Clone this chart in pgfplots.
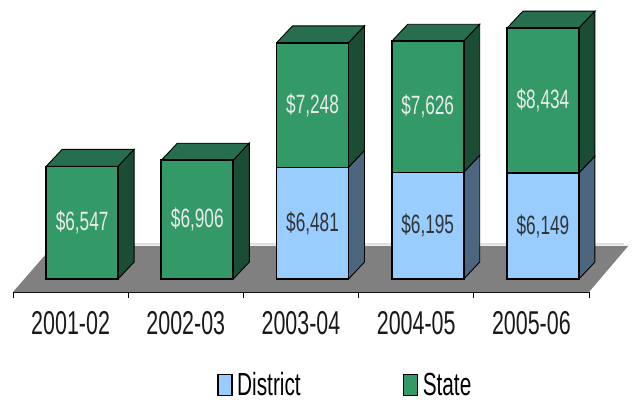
\documentclass[border=0pt]{standalone}
\usepackage{fontspec}
\setmainfont[FakeStretch=0.65]{Liberation Sans}
\usepackage{pgfplots}
\usepackage{pgfplotstable}
\pgfplotsset{compat=1.18}
\definecolor{gfront}{HTML}{339966}
\definecolor{gside}{HTML}{1A4D33}
\definecolor{gtop}{HTML}{266E4D}
\definecolor{bfront}{HTML}{99CCFF}
\definecolor{bside}{HTML}{4D6680}
\definecolor{floorc}{HTML}{808080}
\pgfplotstableread{
x d s
0.1 0 6547
1.1 0 6906
2.1 6481 7248
3.1 6195 7626
4.1 6149 8434
}\datatab
\pgfplotstableread{
x d s
2.1 6481 7248
3.1 6195 7626
4.1 6149 8434
}\datatabd
\begin{document}
\begin{tikzpicture}
\path (-13pt,-110pt) rectangle (624pt,292pt);
\begin{axis}[
  at={(0pt,0pt)}, anchor=south west,
  scale only axis, width=576pt, height=292pt,
  xmin=-0.5, xmax=4.5, ymin=-756, ymax=16221,
  clip=false,
  axis x line*=bottom, axis y line=none,
  axis line style={black, line width=1pt},
  xtick={-0.5,0.5,1.5,2.5,3.5,4.5}, xticklabels={},
  tick align=outside, major tick length=6pt,
  tick style={black, line width=0.8pt},
  extra x ticks={0,1,2,3,4},
  extra x tick labels={2001-02,2002-03,2003-04,2004-05,2005-06},
  extra x tick style={major tick length=0pt, tick style={draw=none}},
  xticklabel style={font=\fontsize{33}{33}\selectfont, text=black!90, yshift=-16pt},
  legend style={at={(205pt,-93pt)}, anchor=west, draw=none, fill=none,
    legend columns=2, inner sep=0pt, font=\fontsize{32}{32}\selectfont,
    /tikz/every even column/.append style={column sep=101pt}},
  legend cell align=left,
  /pgf/number format/assume math mode=true,
  /pgf/number format/1000 sep={,},
  face/.style={draw=black, line width=0.9pt, forget plot},
]
\addplot[fill=floorc, draw=none, forget plot] coordinates {(-0.5,-756) (-0.153,1919) (4.84,1919) (4.5,-756) (-0.5,-756)};
\addplot[draw=black!12, line width=2pt, forget plot] coordinates {(-0.15,2010) (4.8,2010)};

% tops
\addplot[face, fill=gtop] coordinates {(-0.2125,6547) (-0.0735,7535) (0.5515,7535) (0.4125,6547) (-0.2125,6547)};
\addplot[face, fill=gtop] coordinates {(0.7875,6906) (0.9265,7894) (1.5515,7894) (1.4125,6906) (0.7875,6906)};
\addplot[face, fill=gtop] coordinates {(1.7875,13729) (1.9265,14717) (2.5515,14717) (2.4125,13729) (1.7875,13729)};
\addplot[face, fill=gtop] coordinates {(2.7875,13821) (2.9265,14809) (3.5515,14809) (3.4125,13821) (2.7875,13821)};
\addplot[face, fill=gtop] coordinates {(3.7875,14583) (3.9265,15571) (4.5515,15571) (4.4125,14583) (3.7875,14583)};
% state sides
\addplot[face, fill=gside] coordinates {(0.4125,0) (0.5515,988) (0.5515,7535) (0.4125,6547) (0.4125,0)};
\addplot[face, fill=gside] coordinates {(1.4125,0) (1.5515,988) (1.5515,7894) (1.4125,6906) (1.4125,0)};
\addplot[face, fill=gside] coordinates {(2.4125,6481) (2.5515,7469) (2.5515,14717) (2.4125,13729) (2.4125,6481)};
\addplot[face, fill=gside] coordinates {(3.4125,6195) (3.5515,7183) (3.5515,14809) (3.4125,13821) (3.4125,6195)};
\addplot[face, fill=gside] coordinates {(4.4125,6149) (4.5515,7137) (4.5515,15571) (4.4125,14583) (4.4125,6149)};
% district sides
\addplot[face, fill=bside] coordinates {(2.4125,0) (2.5515,988) (2.5515,7469) (2.4125,6481) (2.4125,0)};
\addplot[face, fill=bside] coordinates {(3.4125,0) (3.5515,988) (3.5515,7183) (3.4125,6195) (3.4125,0)};
\addplot[face, fill=bside] coordinates {(4.4125,0) (4.5515,988) (4.5515,7137) (4.4125,6149) (4.4125,0)};

% front faces
\addplot[ybar, bar shift=0pt, bar width=72pt, fill=gfront, draw=black, line width=1.7pt, forget plot]
  table[x=x, y expr=\thisrow{d}+\thisrow{s}] {\datatab};
\addplot[ybar, bar shift=0pt, bar width=72pt, fill=bfront, draw=black, line width=1.7pt, forget plot]
  table[x=x, y=d] {\datatabd};

% value labels
\addplot[draw=none, mark=none, forget plot, point meta=explicit,
  nodes near coords={\$\pgfmathprintnumber{\pgfplotspointmeta}},
  nodes near coords align={center},
  every node near coord/.append style={anchor=center, inner sep=0pt, text=white!92!black, font=\fontsize{26.5}{26.5}\selectfont}]
  table[x=x, y expr=\thisrow{d}+\thisrow{s}/2, meta=s] {\datatab};
\addplot[draw=none, mark=none, forget plot, point meta=explicit,
  nodes near coords={\$\pgfmathprintnumber{\pgfplotspointmeta}},
  nodes near coords align={center},
  every node near coord/.append style={anchor=center, inner sep=0pt, text=black!80, font=\fontsize{26.5}{26.5}\selectfont}]
  table[x=x, y expr=\thisrow{d}/2, meta=d] {\datatabd};

\addlegendimage{legend image code/.code={\path[draw=none, fill=none, use as bounding box] (0pt,-10.5pt) rectangle (17pt,10.5pt);\draw[fill=bfront, draw=black, line width=1.5pt] (0pt,-10.5pt) rectangle (14pt,10.5pt);}}
\addlegendentry{District}
\addlegendimage{legend image code/.code={\path[draw=none, fill=none, use as bounding box] (0pt,-10.5pt) rectangle (17pt,10.5pt);\draw[fill=gfront, draw=black, line width=1.5pt] (0pt,-10.5pt) rectangle (14pt,10.5pt);}}
\addlegendentry{State}
\end{axis}
\end{tikzpicture}
\end{document}
